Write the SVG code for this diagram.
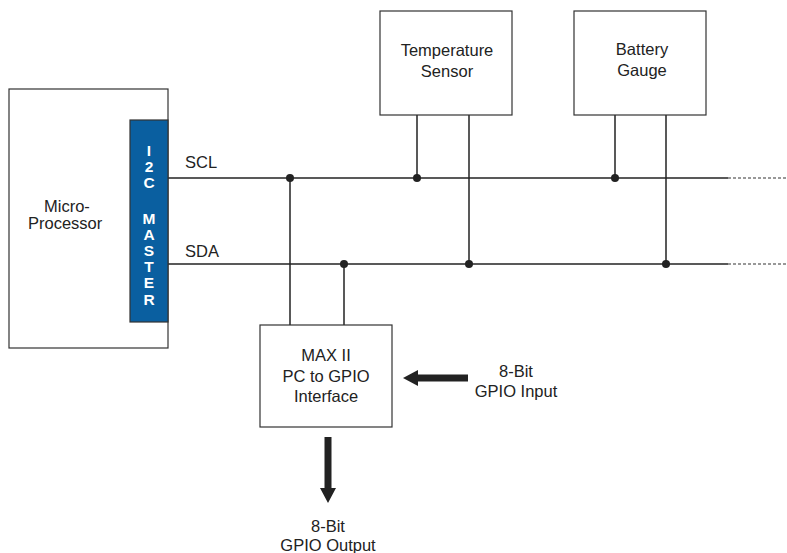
<svg xmlns="http://www.w3.org/2000/svg" width="787" height="553" viewBox="0 0 787 553">
<style>
.box{fill:#fff;stroke:#333;stroke-width:1.2}
.w{stroke:#222;stroke-width:1.5;fill:none}
.d{stroke:#777;stroke-width:1.5;stroke-dasharray:3 2;fill:none}
text{font-family:"Liberation Sans",Arial,sans-serif;font-size:16.5px;fill:#222}
.c{text-anchor:middle}
.m{font-weight:bold;fill:#fff;text-anchor:middle;font-size:15.5px}
</style>
<rect width="787" height="553" fill="#fff"/>
<g id="connectors">
<line class="w" x1="168" y1="178" x2="728" y2="178"/>
<line class="d" x1="728" y1="178" x2="787" y2="178"/>
<line class="w" x1="168" y1="264" x2="728" y2="264"/>
<line class="d" x1="728" y1="264" x2="787" y2="264"/>
<line class="w" x1="417" y1="115" x2="417" y2="178"/>
<line class="w" x1="469" y1="115" x2="469" y2="264"/>
<line class="w" x1="615" y1="115" x2="615" y2="178"/>
<line class="w" x1="666" y1="115" x2="666" y2="264"/>
<line class="w" x1="290" y1="178" x2="290" y2="325"/>
<line class="w" x1="344" y1="264" x2="344" y2="325"/>
<g fill="#222">
<circle cx="290" cy="178" r="4"/><circle cx="417" cy="178" r="4"/><circle cx="615" cy="178" r="4"/>
<circle cx="344" cy="264" r="4"/><circle cx="469" cy="264" r="4"/><circle cx="666" cy="264" r="4"/>
<polygon points="468,374.5 418,374.5 418,370 403,378 418,386 418,381.5 468,381.5"/>
<polygon points="324.5,437 331.5,437 331.5,488 336,488 328,503 320,488 324.5,488"/>
</g>
</g>
<g id="micro">
<rect class="box" x="9" y="89" width="159" height="259"/>
<text x="44" y="212">Micro-</text>
<text x="28" y="229">Processor</text>
</g>
<g id="i2c">
<rect x="130" y="120" width="38" height="202" fill="#0a5fa0" stroke="#333" stroke-width="1.2"/>
<text class="m" x="149" y="156">I</text>
<text class="m" x="149" y="172">2</text>
<text class="m" x="149" y="188">C</text>
<text class="m" x="149" y="224">M</text>
<text class="m" x="149" y="240">A</text>
<text class="m" x="149" y="256">S</text>
<text class="m" x="149" y="272">T</text>
<text class="m" x="149" y="288">E</text>
<text class="m" x="149" y="305">R</text>
</g>
<text x="185" y="168">SCL</text>
<text x="185" y="257">SDA</text>
<g id="temp">
<rect class="box" x="380" y="11" width="132" height="104"/>
<text class="c" x="447" y="56">Temperature</text>
<text class="c" x="447" y="77">Sensor</text>
</g>
<g id="battery">
<rect class="box" x="574" y="11" width="132" height="104"/>
<text class="c" x="642" y="55">Battery</text>
<text class="c" x="642" y="76">Gauge</text>
</g>
<g id="max">
<rect class="box" x="260" y="325" width="132" height="102"/>
<text class="c" x="326" y="361">MAX II</text>
<text class="c" x="326" y="382">PC to GPIO</text>
<text class="c" x="326" y="402">Interface</text>
</g>
<g id="input">
<text class="c" x="516" y="377">8-Bit</text>
<text class="c" x="516" y="397">GPIO Input</text>
</g>
<g id="output">
<text class="c" x="328" y="532">8-Bit</text>
<text class="c" x="328" y="551">GPIO Output</text>
</g>
</svg>
